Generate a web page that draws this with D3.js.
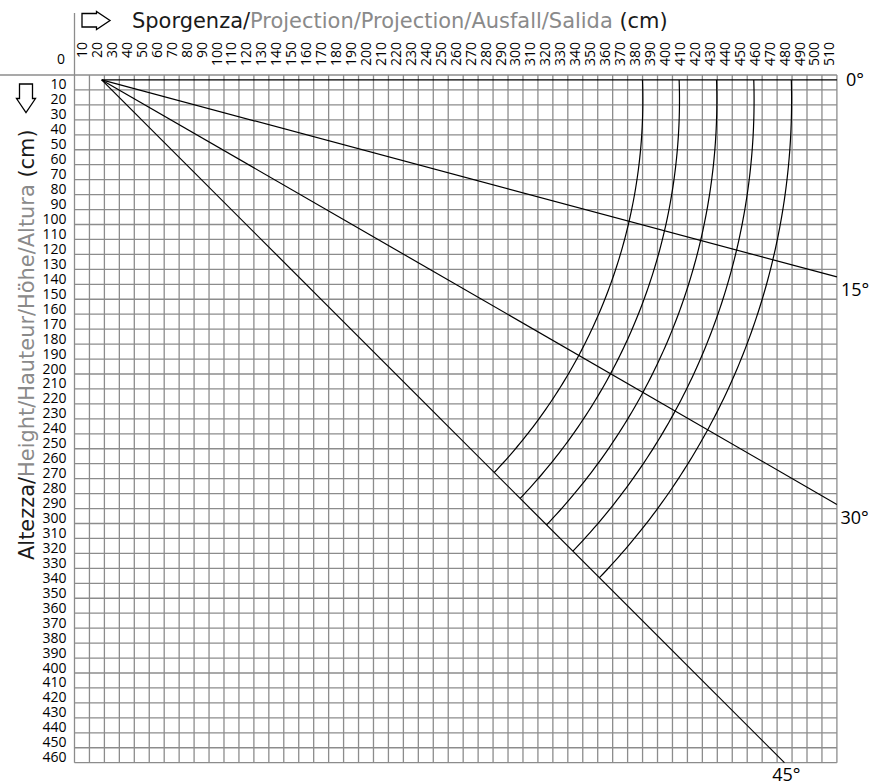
<!DOCTYPE html>
<html><head><meta charset="utf-8">
<script src="https://cdn.jsdelivr.net/npm/d3@7"></script>
<style>body{margin:0;background:#fff}svg{display:block}</style>
</head><body>
<svg id="chart" width="871" height="782"></svg>
<script>
// ---- data ----
const xTickValues = d3.range(10, 511, 10);   // Sporgenza (cm)
const yTickValues = d3.range(10, 461, 10);   // Altezza (cm)
const xMax = 510, yMax = 460;
const angles = [0, 15, 30, 45];
const angleLabels = ["0°", "15°", "30°", "45°"];
const lineOrigin = [18.2, 3.3];      // pivot of inclination lines (cm)
const arcCenter = [18.2, 16.7];      // centre of arm arcs (cm)
const arcRadii = [362, 386.5, 411.5, 436.4, 461.5]; // arm reach (cm)
const titleParts = ["Sporgenza/", "Projection/Projection/Ausfall/Salida", " (cm)"];
const yTitleParts = ["Altezza/", "Height/Hauteur/Höhe/Altura", " (cm)"];

// ---- styles ----
const GRID = "#8c8c8c", DARK = "#1a1a1a", GREY = "#8a8a8a";
const tickFont = "'Open Sans', 'Noto Sans', sans-serif";
const titleFont = "'DejaVu Sans', sans-serif";

const svg = d3.select("#chart");
const x = d3.scaleLinear().domain([0, xMax]).range([74.5, 836.9]);
const y = d3.scaleLinear().domain([0, yMax]).range([75, 762.7]);

// grid
const grid = svg.append("g").attr("stroke", GRID).attr("stroke-width", 1.3).attr("fill", "none");
grid.selectAll("line.v").data(d3.range(0, xMax + 1, 10)).join("line").attr("class", "v")
  .attr("x1", d => x(d)).attr("x2", d => x(d)).attr("y1", y(0)).attr("y2", y(yMax));
grid.selectAll("line.h").data(d3.range(0, yMax + 1, 10)).join("line").attr("class", "h")
  .attr("y1", d => y(d)).attr("y2", d => y(d)).attr("x1", x(0)).attr("x2", x(xMax));
// extended axis lines
grid.append("line").attr("x1", 0).attr("x2", x(0)).attr("y1", y(0)).attr("y2", y(0));
grid.append("line").attr("x1", x(0)).attr("x2", x(0)).attr("y1", 13).attr("y2", y(0));

// top tick labels
svg.append("g").selectAll("text").data(xTickValues).join("text")
  .attr("transform", d => `translate(${x(d - 5) - 0.5},42) rotate(-90)`)
  .attr("text-anchor", "end").attr("dominant-baseline", "central")
  .attr("font-family", tickFont).attr("font-size", 14).attr("fill", "#000")
  .text(d => d);
// left tick labels
svg.append("g").selectAll("text").data(yTickValues).join("text")
  .attr("x", x(0) - 8).attr("y", d => y(d) - 0.5)
  .attr("text-anchor", "end")
  .attr("font-family", tickFont).attr("font-size", 14).attr("fill", "#000")
  .text(d => d);
svg.append("text").attr("x", x(0) - 9.5).attr("y", y(0) - 11).attr("text-anchor", "end")
  .attr("font-family", tickFont).attr("font-size", 14).attr("fill", "#000").text("0");

// inclination lines
const rad = a => a * Math.PI / 180;
function rayEnd(a) {
  const u = [Math.cos(rad(a)), Math.sin(rad(a))];
  let t = (xMax - lineOrigin[0]) / u[0];
  if (u[1] > 0) t = Math.min(t, (yMax - lineOrigin[1]) / u[1]);
  return [lineOrigin[0] + t * u[0], lineOrigin[1] + t * u[1]];
}
const lines = svg.append("g").attr("stroke", "#000").attr("stroke-width", 1.2).attr("fill", "none");
lines.selectAll("line").data(angles).join("line")
  .attr("x1", x(lineOrigin[0])).attr("y1", y(lineOrigin[1]))
  .attr("x2", a => x(rayEnd(a)[0])).attr("y2", a => y(rayEnd(a)[1]));

// arcs between 0° and 45° rays
function rayCircle(a, R) {
  const u = [Math.cos(rad(a)), Math.sin(rad(a))];
  const D = [lineOrigin[0] - arcCenter[0], lineOrigin[1] - arcCenter[1]];
  const b = D[0] * u[0] + D[1] * u[1];
  const c = D[0] * D[0] + D[1] * D[1] - R * R;
  const t = -b + Math.sqrt(b * b - c);
  return [lineOrigin[0] + t * u[0], lineOrigin[1] + t * u[1]];
}
const lineGen = d3.line().x(p => x(p[0])).y(p => y(p[1]));
arcRadii.forEach(R => {
  const p0 = rayCircle(angles[0], R), p1 = rayCircle(angles[angles.length - 1], R);
  const f0 = Math.atan2(p0[1] - arcCenter[1], p0[0] - arcCenter[0]);
  const f1 = Math.atan2(p1[1] - arcCenter[1], p1[0] - arcCenter[0]);
  const pts = d3.range(0, 101).map(i => {
    const f = f0 + (f1 - f0) * i / 100;
    return [arcCenter[0] + R * Math.cos(f), arcCenter[1] + R * Math.sin(f)];
  });
  lines.append("path").attr("d", lineGen(pts));
});

// angle labels
const labelOffsets = { 0: [9, 6.5, "start"], 15: [4, 19.5, "start"], 30: [3.5, 20, "start"], 45: [2, 18.5, "middle"] };
svg.append("g").selectAll("text").data(angles).join("text")
  .attr("x", (a) => x(rayEnd(a)[0]) + labelOffsets[a][0])
  .attr("y", (a) => y(rayEnd(a)[1]) + labelOffsets[a][1])
  .attr("text-anchor", a => labelOffsets[a][2])
  .attr("font-family", tickFont).attr("font-size", 18).attr("fill", "#000")
  .text((a, i) => angleLabels[i]);

// titles
const colors = [DARK, GREY, DARK];
function fit(textSel, target) {
  let fs = +textSel.attr("font-size");
  const len = textSel.node().getComputedTextLength();
  textSel.attr("font-size", fs * target / len);
}
const t1 = svg.append("text").attr("x", 132).attr("y", 28)
  .attr("font-family", titleFont).attr("font-size", 19);
titleParts.forEach((s, i) => t1.append("tspan").attr("fill", colors[i]).text(s));
fit(t1, 536);

const t2 = svg.append("text").attr("transform", "translate(34,560) rotate(-90)")
  .attr("font-family", titleFont).attr("font-size", 19);
yTitleParts.forEach((s, i) => t2.append("tspan").attr("fill", colors[i]).text(s));
fit(t2, 431);

// arrows
svg.append("path")
  .attr("d", "M82,13.5 H96.5 V11.5 L110,20.5 L96.5,29.5 V27 H82 Z")
  .attr("fill", "#fff").attr("stroke", "#000").attr("stroke-width", 1.3);
svg.append("path")
  .attr("d", "M19.5,84 V98.5 H16.5 L26,112.5 L35.5,98.5 H32.5 V84 Z")
  .attr("fill", "#fff").attr("stroke", "#000").attr("stroke-width", 1.3);
</script>
</body></html>
